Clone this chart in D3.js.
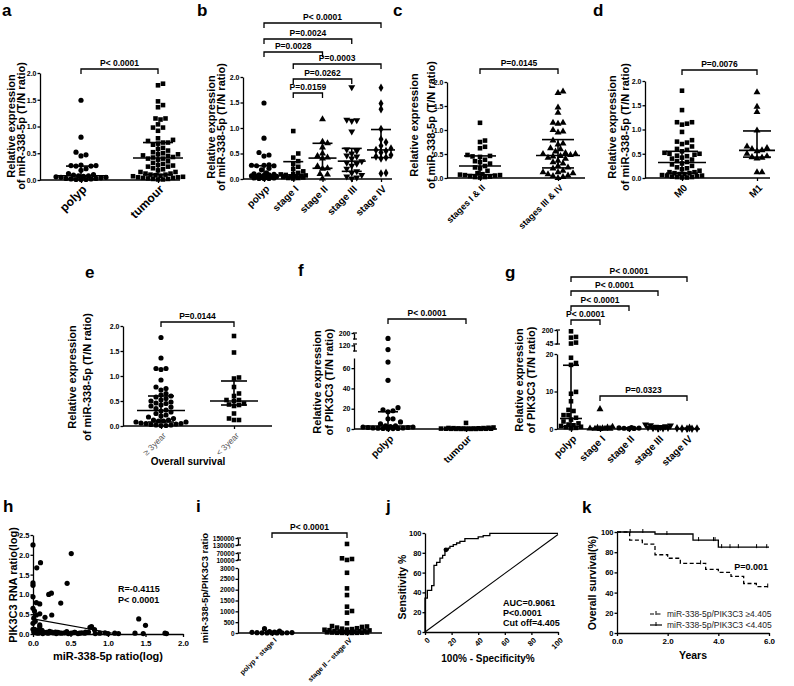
<!DOCTYPE html>
<html><head><meta charset="utf-8">
<script src="https://cdn.jsdelivr.net/npm/d3@7"></script>
<style>
body{margin:0;background:#fff}
svg{display:block}
</style></head><body>
<svg id="c" width="794" height="686"></svg>
<script>
// ---------------- DATA ----------------
const ticks02 = [0, 0.5, 1.0, 1.5, 2.0];

// a
const aCats = ["polyp", "tumour"];
const aPolyp = [1.49,0.80,0.52,0.47,0.45,0.28,0.27,0.27,0.26,0.26,0.21,0.18,0.12,0.10,0.09,0.08,0.08,0.07,0.06,0.05,0.05,0.04,0.03,0.03,0.02,0.02,0.01,0.01,0.01];
const aTumour = [1.80,1.77,1.47,1.40,1.36,1.15,1.13,1.15,1.04,0.98,0.98,0.92,0.78,0.75,0.73,0.70,0.70,0.68,0.66,0.60,0.58,0.55,0.52,0.50,0.48,0.48,0.46,0.45,0.43,0.42,0.40,0.40,0.38,0.35,0.32,0.30,0.28,0.27,0.25,0.25,0.22,0.20,0.18,0.15,0.15,0.12,0.12,0.10,0.10,0.09,0.08,0.07,0.06,0.05,0.05,0.04,0.04,0.03,0.02,0.02,0.01,0.01];
const aMed = [0.08, 0.41], aLo = [0.02, 0.10], aHi = [0.26, 0.70];

// b
const bCats = ["polyp", "stage I", "stage II", "stage III", "stage IV"];
const bStageI = [0.94,0.50,0.42,0.35,0.30,0.24,0.20,0.15,0.12,0.10,0.09,0.08,0.07,0.06,0.05,0.05,0.04,0.03,0.02,0.02,0.01];
const bStageII = [1.17,0.73,0.70,0.62,0.50,0.45,0.42,0.40,0.25,0.21,0.20,0.10,0.09,0.01];
const bStageIII = [1.80,1.16,1.15,1.14,0.93,0.58,0.55,0.50,0.46,0.44,0.40,0.35,0.32,0.30,0.26,0.20,0.15,0.12,0.08,0.05,0.03,0.01];
const bStageIV = [1.79,1.48,1.37,0.98,0.78,0.72,0.65,0.60,0.57,0.55,0.52,0.47,0.44,0.42,0.40,0.12,0.11];
const bMed = [0.08,0.08,0.41,0.35,0.57], bLo = [0.02,0.03,0.21,0.15,0.42], bHi = [0.26,0.34,0.70,0.60,0.97];

// c
const cCats = ["stages I & II", "stages III & IV"];
const cEarly = [1.15,0.78,0.75,0.65,0.62,0.48,0.46,0.45,0.44,0.38,0.35,0.33,0.30,0.25,0.22,0.20,0.15,0.10,0.08,0.07,0.06,0.06,0.05,0.04,0.03,0.02,0.02,0.01];
const cLate = [1.80,1.77,1.47,1.36,1.15,1.15,1.13,1.00,0.97,0.95,0.78,0.72,0.70,0.62,0.60,0.55,0.52,0.50,0.50,0.48,0.46,0.45,0.42,0.40,0.36,0.33,0.30,0.25,0.22,0.20,0.15,0.12,0.12,0.10,0.08,0.05,0.04,0.02,0.00];
const cMed = [0.25, 0.47], cLo = [0.07, 0.21], cHi = [0.46, 0.80];

// d
const dCats = ["M0", "M1"];
const dM0 = [1.80,1.40,1.15,1.15,1.12,1.10,0.95,0.78,0.75,0.73,0.70,0.65,0.60,0.58,0.55,0.52,0.50,0.50,0.48,0.46,0.45,0.42,0.40,0.38,0.35,0.33,0.30,0.28,0.25,0.22,0.20,0.18,0.15,0.12,0.12,0.10,0.10,0.08,0.08,0.06,0.05,0.05,0.04,0.03,0.02,0.02,0.01,0.01];
const dM1 = [1.77,1.47,1.36,0.98,0.65,0.62,0.60,0.57,0.55,0.50,0.45,0.43,0.42,0.40,0.12,0.12];
const dMed = [0.32, 0.57], dLo = [0.10, 0.43], dHi = [0.55, 0.97];

// e
const eCats = ["\u2265 3year", "< 3year"];
const eLong = [1.77,1.36,1.15,1.15,1.13,0.92,0.78,0.75,0.72,0.65,0.62,0.60,0.58,0.55,0.52,0.50,0.48,0.46,0.45,0.42,0.40,0.38,0.35,0.32,0.30,0.28,0.25,0.22,0.20,0.18,0.15,0.12,0.12,0.10,0.10,0.08,0.08,0.06,0.05,0.05,0.04,0.03,0.02,0.02,0.01,0.01];
const eShort = [1.80,1.47,0.97,0.95,0.78,0.65,0.60,0.52,0.52,0.50,0.45,0.43,0.42,0.40,0.25,0.15,0.12,0.12];
const eMed = [0.31, 0.50], eLo = [0.08, 0.42], eHi = [0.60, 0.90];

// f (PIK3C3, broken axis)
const fCats = ["polyp", "tumour"];
const fPolyp = [155,105,66,48,21,19,18,17,10,10,7,5,3,3,2.5,2,2,1.5,1.5,1,1,0.8,0.6,0.5,0.4,0.3];
const fTumour = [6,1.5,1.2,1.0,0.9,0.8,0.7,0.6,0.5,0.5,0.4,0.4,0.3,0.3,0.25,0.2,0.2,0.15,0.1,0.1,0.08,0.05];
const fMed = [3, 0.3], fLo = [0.7, 0.1], fHi = [17, 0.6];
const fTicks = [[0,20,40,60],[120],[200]];

// g
const gCats = ["polyp", "stage I", "stage II", "stage III", "stage IV"];
const gPolyp = [185,121,113,56,45,19,17.6,17.1,9.9,9.4,7.4,5.1,4.8,3.7,3.7,3,2.5,2,1.5,1.2,1,0.8,0.6,0.5,0.3,0.2];
const gStageI = [5.3,0.6,0.4,0.3,0.2,0.15,0.1,0.08,0.05,0.03];
const gStageII = [0.4,0.3,0.25,0.2,0.15,0.1];
const gStageIII = [1.2,1.0,0.9,0.7,0.6,0.5,0.4,0.3,0.2,0.15,0.1];
const gStageIV = [0.3,0.2,0.15,0.1,0.08,0.05];
const gMed = [2.8,0.2,0.2,0.4,0.1], gLo = [0.6,0.1,0.15,0.2,0.08], gHi = [17,0.4,0.3,0.7,0.2];
const gTicks = [[0,10,20],[45,200]];

// h
const hX = [0,0.51,0.10,0.05,0,0,0.455,0.21,0.245,0,0.045,0.09,0.37,0,0.02,0.09,0.045,0.25,0.16,0.03,0.09,0.09,1.41,1.50,0.76,0.78,0.82,
  0.01,0.045,0.07,0.11,0.13,0.18,0.2,0.25,0.27,0.31,0.33,0.38,0.42,0.47,0.51,0.56,0.6,0.65,0.69,0.74,0.83,0.89,0.96,1.0,1.09,1.14,1.36,1.47,1.76,1.78,
  0.02,0.04,0.06,0.08,0.12,0.15,0.22,0.3,0.35,0.45,0.55,0.62,0.7,0,0,0.01];
const hY = [2.25,2.03,1.80,1.67,1.29,1.23,1.28,1.00,1.03,0.94,0.79,0.76,0.78,0.65,0.58,0.51,0.48,0.48,0.42,0.32,0.23,0.19,0.38,0.22,0.17,0.19,0.11,
  0.05,0.03,0.02,0.06,0.01,0.04,0.02,0.05,0.03,0.01,0.04,0.02,0.03,0.01,0.02,0.04,0.01,0.03,0.02,0.05,0.01,0.02,0.03,0.01,0.02,0.01,0.02,0.01,0.02,0.01,
  0.12,0.08,0.10,0.06,0.09,0.04,0.07,0.05,0.03,0.06,0.04,0.02,0.05,0.27,0.12,0.40];
const hFitX = [0, 1.12], hFitY = [0.38, 0];
const hTicksX = [0,0.5,1.0,1.5,2.0], hTicksY = [0,0.5,1.0,1.5,2.0,2.5];

// i
const iCats = ["polyp + stage I", "stage II \u2013 stage IV"];
const iEarly = [200,90,60,40,30,20,15,10,8,5,3,2,1];
const iLate = [133000,24500,10500,18500,2780,2060,1750,1215,1015,940,450,320,300,280,250,220,200,180,160,150,130,120,100,90,80,70,60,50,40,30,25,20,15,10,8,5,3,2];
const iTicks = [[0,500,1000,1500,2000,2500,3000],[10000,70000],[130000,150000]];

// j (ROC)
const rocFpr = [0,0,1.75,5,6.75,8.75,11.25,13.25,15,17.5,18.75,21.25,23.75,26.25,30,40,43.75,48.75,100];
const rocTpr = [0,34.3,42,46.8,67.3,70.4,74.7,77.4,83,84.8,86.5,88.2,89.9,91.6,94.3,96,97.3,99.7,99.7];
const rocCut = [15.75, 83];
const diagX = [0,100], diagY = [0,98.5];
const jTicks = [0,20,40,60,80,100];

// k (Kaplan-Meier)
const kmLowT = [0,1.5,3,4,6], kmLowS = [100,98,92,85,85];
const kmLowCens = [0.52,1.02,1.97,3.22,3.81,3.87,4.13,4.46,4.79,5.51,5.91];
const kmHighT = [0,0.5,1.0,1.5,2.0,2.5,3.5,4.0,4.5,5.0,5.5,6.0], kmHighS = [100,92,88,77.5,74,69,63,60,56,49,46,47];
const kmHighCens = [3.3,5.95];
const kTicksX = [0,2,4,6], kTicksY = [0,20,40,60,80,100];

// ---------------- DRAWING ----------------
const FONT = '"Liberation Sans", Arial, Helvetica, sans-serif';
const svg = d3.select("#c").attr("font-family", FONT);

function styleAxis(ax, fs){
  ax.attr("font-family", FONT);
  ax.selectAll("path,line").attr("stroke","#000").attr("stroke-width",1.3);
  ax.selectAll("text").attr("font-size",fs).attr("font-weight","bold").attr("fill","#000");
}
function label(x,y,s,size,opt){
  opt = opt||{};
  const t = svg.append("text").attr("x",x).attr("y",y).text(s)
    .attr("font-size",size).attr("font-weight",opt.w||"bold").attr("fill",opt.fill||"#000")
    .attr("text-anchor",opt.anchor||"start");
  if(opt.rot!==undefined) t.attr("transform",`rotate(${opt.rot},${x},${y})`);
  return t;
}
function symPath(shape,size){
  const map={circle:d3.symbolCircle,square:d3.symbolSquare,triangle:d3.symbolTriangle,triDown:d3.symbolTriangle,diamond:d3.symbolDiamond};
  return d3.symbol().type(map[shape]).size(size)();
}
function swarm(vals,yS,cx,step,maxHalf){
  const pts = vals.map(v=>({v,y:yS(v)})).sort((a,b)=>a.v-b.v);
  const offs=[0];
  for(let k=1;k*step/2<=maxHalf;k++){offs.push(k*step/2,-k*step/2);}
  const placed=[];
  for(const p of pts){
    let best=0,bestD=-1;
    for(const o of offs){
      let md=Infinity;
      for(const q of placed){const d=Math.hypot(q.x-(cx+o),q.y-p.y); if(d<md) md=d;}
      if(md>=step){best=o;bestD=md;break;}
      if(md>bestD){bestD=md;best=o;}
    }
    p.x=cx+best; placed.push(p);
  }
  return placed;
}
function makeBroken(segs){
  const ss = segs.map(s=>({d:s.d,sc:d3.scaleLinear().domain(s.d).range(s.r)}));
  return v=>{
    for(const s of ss) if(v>=s.d[0]&&v<=s.d[1]) return s.sc(v);
    let b=ss[0]; for(const s of ss) if(v>s.d[1]) b=s;
    return b.sc(Math.max(b.d[0],Math.min(b.d[1],v)));
  };
}
function bracket(g,x1,x2,y,t,fs){
  g.append("path").attr("d",`M${x1},${y+5}V${y}H${x2}V${y+5}`).attr("fill","none").attr("stroke","#000").attr("stroke-width",1.3);
  g.append("text").attr("x",(x1+x2)/2).attr("y",y-3).attr("text-anchor","middle").attr("font-size",fs||8.5).attr("font-weight","bold").text(t);
}

function colPanel(o){
  const g = svg.append("g");
  const x = d3.scalePoint().domain(o.cats).range(o.catRange);
  let y;
  if(o.segs){
    y = makeBroken(o.segs);
    o.segs.forEach((s,i)=>{
      const sc=d3.scaleLinear().domain(s.d).range(s.r);
      const ax=g.append("g").attr("transform",`translate(${o.left},0)`)
        .call(d3.axisLeft(sc).tickValues(s.t).tickFormat(d3.format("d")).tickSize(2.5).tickSizeOuter(0).tickPadding(1));
      styleAxis(ax,o.yfs||7);
      if(i>0){
        [s.r[0],s.r[1]].forEach(yy=>g.append("line").attr("x1",o.left-1).attr("x2",o.left+3).attr("y1",yy).attr("y2",yy).attr("stroke","#000").attr("stroke-width",1.2));
      }
    });
  } else {
    y = d3.scaleLinear().domain([0,2]).range([o.bottom,o.top]);
    const ax=g.append("g").attr("transform",`translate(${o.left},0)`)
      .call(d3.axisLeft(y).tickValues(ticks02).tickFormat(d3.format(".1f")).tickSize(2.5).tickSizeOuter(0).tickPadding(1));
    styleAxis(ax,7);
  }
  // points
  o.groups.forEach((vals,i)=>{
    const cx=x(o.cats[i]);
    const pts=swarm(vals,y,cx,o.step||5,o.maxHalf);
    const shape=o.shapes[i];
    g.selectAll(null).data(pts).enter().append("path")
      .attr("d",symPath(shape,o.msize||21))
      .attr("transform",d=>`translate(${d.x},${d.y})`+(shape==="triDown"?" rotate(180)":""))
      .attr("fill","#000");
  });
  // median + IQR
  if(o.med){
    o.med.forEach((m,i)=>{
      const cx=x(o.cats[i]);
      const mh=o.medHalf[i], ch=o.capHalf[i];
      const L=(x1,y1,x2,y2)=>g.append("line").attr("x1",x1).attr("y1",y1).attr("x2",x2).attr("y2",y2).attr("stroke","#000").attr("stroke-width",1.6);
      L(cx-mh,y(m),cx+mh,y(m));
      L(cx,y(o.lo[i]),cx,y(o.hi[i]));
      L(cx-ch,y(o.hi[i]),cx+ch,y(o.hi[i]));
      L(cx-ch,y(o.lo[i]),cx+ch,y(o.lo[i]));
    });
  }
  // x axis
  const xa=g.append("g").attr("transform",`translate(0,${o.bottom})`).call(d3.axisBottom(x).tickSize(3).tickSizeOuter(0));
  xa.select(".domain").remove();
  styleAxis(xa,o.xfs||10);
  xa.selectAll("text").attr("x",0).attr("y",0).attr("dy","0.35em").attr("text-anchor","end")
    .attr("transform",`translate(${o.xdx||3},${o.xdy||8}) rotate(-45)`)
    .attr("font-weight",o.xw||"bold").attr("fill",o.xfill||"#000");
  g.append("line").attr("x1",o.left).attr("x2",o.right).attr("y1",o.bottom).attr("y2",o.bottom).attr("stroke","#000").attr("stroke-width",1.5);
  // brackets
  (o.brackets||[]).forEach(b=>bracket(g,x(o.cats[b[0]]),x(o.cats[b[1]]),b[2],b[3],o.pfs));
  // titles
  o.titles.forEach(t=>label(t[1],o.titleCY,t[0],o.tfs||11,{anchor:"middle",rot:-90}));
}

// panel letters
[["a",2,16],["b",197,16],["c",393,16],["d",593,16],["e",85,278],["f",298,276],["g",505,278],["h",3,512],["i",196,512],["j",386,512],["k",582,513]]
  .forEach(p=>label(p[1],p[2],p[0],17));

colPanel({cats:aCats,catRange:[81,158],left:40,right:180,top:73,bottom:180,groups:[aPolyp,aTumour],shapes:["circle","square"],
  med:aMed,lo:aLo,hi:aHi,medHalf:[27,25],capHalf:[15,15],maxHalf:27,xfs:12,xdy:7,
  brackets:[[0,1,69,"P< 0.0001"]],titles:[["Relative expression",15],["of miR-338-5p (T/N ratio)",25]],titleCY:126});

colPanel({cats:bCats,catRange:[264,381],left:243,right:392,top:77,bottom:179,groups:[aPolyp,bStageI,bStageII,bStageIII,bStageIV],
  shapes:["circle","square","triangle","triDown","diamond"],med:bMed,lo:bLo,hi:bHi,medHalf:[14,14,14,14,14],capHalf:[10,10,10,10,10],maxHalf:14,xfs:10,
  brackets:[[0,4,23,"P< 0.0001"],[0,3,39,"P=0.0024"],[0,2,52,"P=0.0028"],[1,4,64,"P=0.0003"],[1,3,79,"P=0.0262"],[1,2,93,"P=0.0159"]],
  titles:[["Relative expression",215],["of miR-338-5p (T/N ratio)",225]],titleCY:127});

colPanel({cats:cCats,catRange:[480,558],left:447,right:585,top:82,bottom:178,groups:[cEarly,cLate],shapes:["square","triangle"],
  med:cMed,lo:cLo,hi:cHi,medHalf:[21,22],capHalf:[16,16],maxHalf:24,xfs:9,
  brackets:[[0,1,69,"P=0.0145"]],titles:[["Relative expression",418],["of miR-338-5p (T/N ratio)",435]],titleCY:125});

colPanel({cats:dCats,catRange:[682,757],left:645,right:770,top:81,bottom:178,groups:[dM0,dM1],shapes:["square","triangle"],
  med:dMed,lo:dLo,hi:dHi,medHalf:[24,18],capHalf:[16,14],maxHalf:24,xfs:10,
  brackets:[[0,1,70,"P=0.0076"]],titles:[["Relative expression",616],["of miR-338-5p (T/N ratio)",629]],titleCY:127});

colPanel({cats:eCats,catRange:[161,234],left:123,right:272,top:326,bottom:426,groups:[eLong,eShort],shapes:["circle","square"],
  med:eMed,lo:eLo,hi:eHi,medHalf:[24,24],capHalf:[13,13],maxHalf:25,xfs:8.5,xw:"normal",xfill:"#555",
  brackets:[[0,1,322,"P=0.0144"]],titles:[["Relative expression",76],["of miR-338-5p (T/N ratio)",91]],titleCY:377});
label(188,465,"Overall survival",10,{anchor:"middle"});

colPanel({cats:fCats,catRange:[388,466],left:354,right:497,bottom:429,
  segs:[{d:[0,70],r:[429,358],t:fTicks[0]},{d:[100,125],r:[351,344],t:fTicks[1]},{d:[150,200],r:[339,333],t:fTicks[2]}],
  groups:[fPolyp,fTumour],shapes:["circle","square"],med:fMed,lo:fLo,hi:fHi,medHalf:[23,22],capHalf:[10,6],maxHalf:28,xfs:10,
  brackets:[[0,1,319,"P< 0.0001"]],titles:[["Relative expression",321],["of PIK3C3 (T/N ratio)",333]],titleCY:382});

colPanel({cats:gCats,catRange:[571,687],left:557,right:700,bottom:429,
  segs:[{d:[0,20],r:[429,354],t:gTicks[0]},{d:[40,200],r:[344,330],t:gTicks[1]}],
  groups:[gPolyp,gStageI,gStageII,gStageIII,gStageIV],shapes:["square","triangle","circle","triDown","diamond"],
  med:gMed,lo:gLo,hi:gHi,medHalf:[11,11,11,11,11],capHalf:[8,6,6,6,6],maxHalf:13,xfs:10,
  brackets:[[0,4,277,"P< 0.0001"],[0,3,291,"P< 0.0001"],[0,2,306,"P< 0.0001"],[0,1,320,"P< 0.0001"],[1,4,396,"P=0.0323"]],
  titles:[["Relative expression",523],["of PIK3C3 (T/N ratio)",535]],titleCY:380});

colPanel({cats:iCats,catRange:[272,347],left:238,right:382,bottom:633,
  segs:[{d:[0,3000],r:[633,568],t:iTicks[0]},{d:[10000,70000],r:[560,553],t:iTicks[1]},{d:[130000,150000],r:[545,538],t:iTicks[2]}],
  groups:[iEarly,iLate],shapes:["circle","square"],maxHalf:24,xfs:7,yfs:6.5,xdy:6,
  brackets:[[0,1,533,"P< 0.0001"]],titles:[["miR-338-5p/PIK3C3 ratio",208]],tfs:9.5,titleCY:588});

// ---- h scatter ----
(function(){
  const g=svg.append("g");
  const x=d3.scaleLinear().domain([0,2]).range([33,183]);
  const y=d3.scaleLinear().domain([0,2.5]).range([634,535]);
  const ax=g.append("g").attr("transform","translate(0,634)").call(d3.axisBottom(x).tickValues(hTicksX).tickFormat(d3.format(".1f")).tickSize(3).tickSizeOuter(0));
  styleAxis(ax,8);
  const ay=g.append("g").attr("transform","translate(33,0)").call(d3.axisLeft(y).tickValues(hTicksY).tickFormat(d3.format(".1f")).tickSize(2.5).tickSizeOuter(0).tickPadding(1));
  styleAxis(ay,7.5);
  g.selectAll(null).data(hX.map((v,i)=>[v,hY[i]])).enter().append("circle")
    .attr("cx",d=>x(d[0])).attr("cy",d=>y(d[1])).attr("r",2.6).attr("fill","#000");
  g.append("path").attr("d",d3.line().x(d=>x(d[0])).y(d=>y(d[1]))(hFitX.map((v,i)=>[v,hFitY[i]])))
    .attr("stroke","#000").attr("stroke-width",1.2).attr("fill","none");
  label(118,592,"R=-0.4115",9);
  label(118,603,"P< 0.0001",9);
  label(108,660,"miR-338-5p ratio(log)",11,{anchor:"middle"});
  label(17,585,"PIK3C3 RNA ratio(log)",11,{anchor:"middle",rot:-90});
})();

// ---- j ROC ----
(function(){
  const g=svg.append("g");
  const x=d3.scaleLinear().domain([0,100]).range([425,558]);
  const y=d3.scaleLinear().domain([0,100]).range([632,533]);
  const ax=g.append("g").attr("transform","translate(0,632)").call(d3.axisBottom(x).tickValues(jTicks).tickSize(3).tickSizeOuter(0));
  styleAxis(ax,7.5);
  ax.selectAll("text").attr("x",0).attr("y",0).attr("dy","0.35em").attr("text-anchor","end").attr("transform","translate(3,7) rotate(-45)");
  const ay=g.append("g").attr("transform","translate(425,0)").call(d3.axisLeft(y).tickValues(jTicks).tickSize(2.5).tickSizeOuter(0).tickPadding(1));
  styleAxis(ay,7.5);
  g.append("path").attr("d",d3.line().curve(d3.curveStepAfter).x(d=>x(d[0])).y(d=>y(d[1]))(rocFpr.map((v,i)=>[v,rocTpr[i]])))
    .attr("fill","none").attr("stroke","#000").attr("stroke-width",1.3);
  g.append("path").attr("d",d3.line().x(d=>x(d[0])).y(d=>y(d[1]))(diagX.map((v,i)=>[v,diagY[i]])))
    .attr("fill","none").attr("stroke","#000").attr("stroke-width",1.1);
  g.append("circle").attr("cx",x(rocCut[0])).attr("cy",y(rocCut[1])).attr("r",2.4).attr("fill","#000");
  label(503,606,"AUC=0.9061",9);
  label(503,616,"P<0.0001",9);
  label(503,626,"Cut off=4.405",9);
  label(488,662,"100% - Specificity%",10,{anchor:"middle"});
  label(406,587,"Sensitivity %",10.5,{anchor:"middle",rot:-90});
})();

// ---- k Kaplan-Meier ----
(function(){
  const g=svg.append("g");
  const x=d3.scaleLinear().domain([0,6]).range([617,769]);
  const y=d3.scaleLinear().domain([0,100]).range([633,532]);
  const ax=g.append("g").attr("transform","translate(0,633)").call(d3.axisBottom(x).tickValues(kTicksX).tickSize(3).tickSizeOuter(0).tickPadding(2));
  styleAxis(ax,8);
  const ay=g.append("g").attr("transform","translate(617,0)").call(d3.axisLeft(y).tickValues(kTicksY).tickSize(2.5).tickSizeOuter(0).tickPadding(1));
  styleAxis(ay,7.5);
  const line=d3.line().curve(d3.curveStepAfter).x(d=>x(d[0])).y(d=>y(d[1]));
  const survAt=(T,S,t)=>{let s=S[0];T.forEach((tt,i)=>{if(tt<=t)s=S[i];});return s;};
  g.append("path").attr("d",line(kmLowT.map((v,i)=>[v,kmLowS[i]]))).attr("fill","none").attr("stroke","#000").attr("stroke-width",1.3);
  g.append("path").attr("d",line(kmHighT.map((v,i)=>[v,kmHighS[i]]))).attr("fill","none").attr("stroke","#000").attr("stroke-width",1.3).attr("stroke-dasharray","4,2.5");
  kmLowCens.forEach(t=>{const yy=y(survAt(kmLowT,kmLowS,t));g.append("line").attr("x1",x(t)).attr("x2",x(t)).attr("y1",yy-3).attr("y2",yy+1).attr("stroke","#000").attr("stroke-width",1);});
  kmHighCens.forEach(t=>{const yy=y(survAt(kmHighT,kmHighS,t));g.append("line").attr("x1",x(t)).attr("x2",x(t)).attr("y1",yy-3).attr("y2",yy+1).attr("stroke","#000").attr("stroke-width",1);});
  // legend
  g.append("line").attr("x1",650).attr("x2",662).attr("y1",614).attr("y2",614).attr("stroke","#000").attr("stroke-width",1.2).attr("stroke-dasharray","4,2.5");
  g.append("line").attr("x1",656).attr("x2",656).attr("y1",611).attr("y2",615).attr("stroke","#000");
  g.append("line").attr("x1",650).attr("x2",662).attr("y1",625).attr("y2",625).attr("stroke","#000").attr("stroke-width",1.2);
  g.append("line").attr("x1",656).attr("x2",656).attr("y1",622).attr("y2",626).attr("stroke","#000");
  label(667,617,"miR-338-5p/PIK3C3 \u22654.405",8.5,{w:"normal",fill:"#222"});
  label(667,628,"miR-338-5p/PIK3C3 <4.405",8.5,{w:"normal",fill:"#222"});
  label(768,570,"P=0.001",9,{anchor:"end"});
  label(693,659,"Years",10.5,{anchor:"middle"});
  label(596,583,"Overall survival(%)",10.5,{anchor:"middle",rot:-90});
})();
</script>
</body></html>
